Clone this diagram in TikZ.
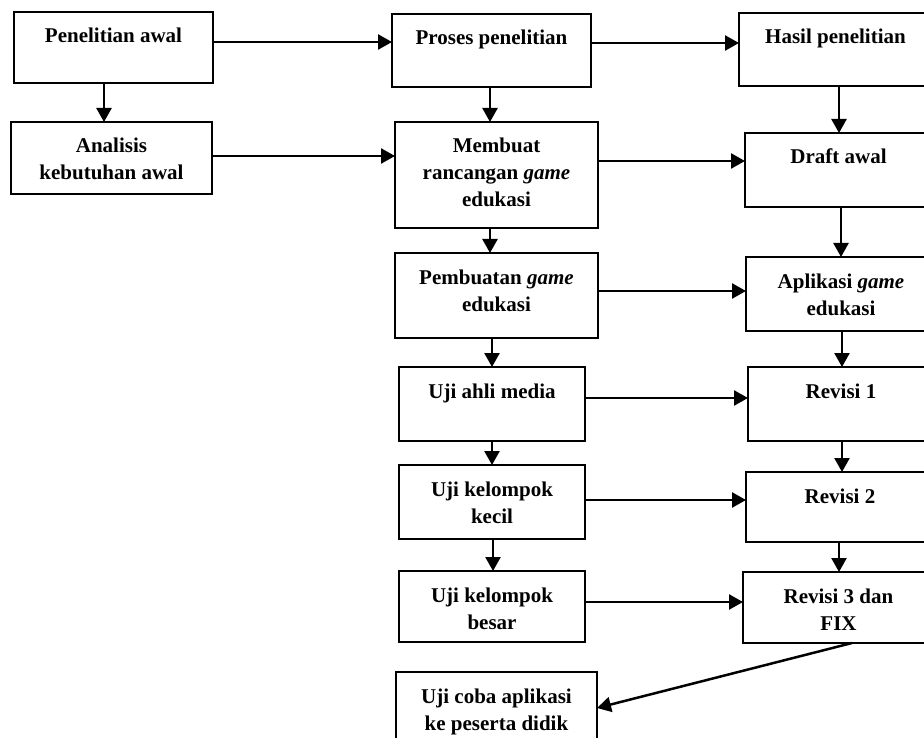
\documentclass[tikz,border=0pt]{standalone}
\usepackage{fontspec}
\setmainfont{Liberation Serif}
\usetikzlibrary{arrows.meta}
\tikzset{
  boxst/.style={draw, line width=1.8pt, inner sep=0pt, outer sep=0pt, anchor=north west},
  txt/.style={inner sep=0pt, outer sep=0pt, anchor=north, align=center, font=\fontsize{21}{27}\selectfont\bfseries},
  arr/.style={line width=2.5pt, -{Triangle[length=14pt,width=15pt]}}
}
\newcommand\mkbox[6]{%
  \node[boxst, minimum width={#4pt-#2pt}, minimum height={#5pt-#3pt}] (#1) at (#2,#3) {};
  \node[txt] (#1t) at ([yshift=-11pt]#1.north) {\rule{0pt}{20pt}#6};
}
\begin{document}
\begin{tikzpicture}[x=1pt,y=-1pt]
\useasboundingbox (0,0) rectangle (924,738);
\clip (0,0) rectangle (924,738);
\fill[white] (0,0) rectangle (924,738);
% left column
\mkbox{pa}{14}{12}{213}{83}{Penelitian awal}
\mkbox{an}{11}{122}{212}{194}{Analisis\\kebutuhan awal}
% middle column
\mkbox{pr}{392}{14}{591}{87}{Proses penelitian}
\mkbox{mb}{395}{122}{598}{228}{Membuat\\rancangan \textit{game}\\edukasi}
\mkbox{pb}{395}{253}{598}{338}{Pembuatan \textit{game}\\edukasi}
\mkbox{ua}{399}{367}{585}{441}{Uji ahli media}
\mkbox{kk}{399}{465}{585}{539}{Uji kelompok\\kecil}
\mkbox{kb}{399}{571}{585}{642}{Uji kelompok\\besar}
\mkbox{uc}{396}{672}{597}{770}{Uji coba aplikasi\\ke peserta didik}
% right column
\mkbox{hs}{739}{13}{932}{86}{Hasil penelitian}
\mkbox{dr}{745}{133}{932}{207}{Draft awal}
\mkbox{ap}{746}{257}{936}{331}{Aplikasi \textit{game}\\edukasi}
\mkbox{ro}{748}{367}{934}{441}{Revisi 1}
\mkbox{rt}{746}{472}{934}{542}{Revisi 2}
\mkbox{rh}{743}{572}{934}{643}{Revisi 3 dan\\FIX}
% horizontal arrows
\draw[arr] (pa.east |- 0,42) -- (pr.west |- 0,42);
\draw[arr] (an.east |- 0,156) -- (mb.west |- 0,156);
\draw[arr] (pr.east |- 0,43) -- (hs.west |- 0,43);
\draw[arr] (mb.east |- 0,161) -- (dr.west |- 0,161);
\draw[arr] (pb.east |- 0,291) -- (ap.west |- 0,291);
\draw[arr] (ua.east |- 0,398) -- (ro.west |- 0,398);
\draw[arr] (kk.east |- 0,500) -- (rt.west |- 0,500);
\draw[arr] (kb.east |- 0,602) -- (rh.west |- 0,602);
% vertical arrows
\draw[arr] (pa.south -| 104,0) -- (an.north -| 104,0);
\draw[arr] (pr.south -| 490,0) -- (mb.north -| 490,0);
\draw[arr] (mb.south -| 490,0) -- (pb.north -| 490,0);
\draw[arr] (pb.south -| 492,0) -- (ua.north -| 492,0);
\draw[arr] (ua.south -| 492,0) -- (kk.north -| 492,0);
\draw[arr] (kk.south -| 493,0) -- (kb.north -| 493,0);
\draw[arr] (hs.south -| 839,0) -- (dr.north -| 839,0);
\draw[arr] (dr.south -| 841,0) -- (ap.north -| 841,0);
\draw[arr] (ap.south -| 842,0) -- (ro.north -| 842,0);
\draw[arr] (ro.south -| 842,0) -- (rt.north -| 842,0);
\draw[arr] (rt.south -| 839,0) -- (rh.north -| 839,0);
% diagonal
\draw[arr] (rh.south -| 852,0) -- (uc.east |- 0,708);
\end{tikzpicture}
\end{document}
